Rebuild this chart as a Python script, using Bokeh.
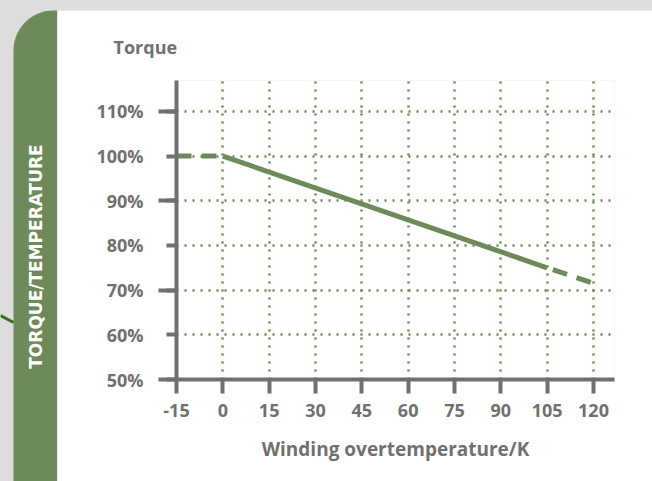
import math
from bokeh.plotting import figure
from bokeh.layouts import row, column
from bokeh.models import FixedTicker, Range1d, Title
from bokeh.core.properties import value
from bokeh.embed import file_html
from bokeh.resources import INLINE

# ---- data ----
x_ticks = [-15, 0, 15, 30, 45, 60, 75, 90, 105, 120]
x_tick_labels = ["-15", "0", "15", "30", "45", "60", "75", "90", "105", "120"]
y_ticks = [50, 60, 70, 80, 90, 100, 110]
y_tick_labels = ["50%", "60%", "70%", "80%", "90%", "100%", "110%"]

temp_cold = [-15, 0]
torque_cold = [100, 100]
temp_rated = [0, 105]
torque_rated = [100, 75]
temp_hot = [105, 120]
torque_hot = [75, 71.5]

y_title = "Torque"
x_title = "Winding overtemperature/K"
side_title = "TORQUE/TEMPERATURE"

GREEN = "#6e8a5a"
GRID_GREEN = "#668753"
GREY = "#707070"
BG = "#dddddd"
FONT = "Open Sans"

W, H = 652, 481
SIDE_W = 57
STRIP_H = 10


def deco_fig(w, h, fill):
    f = figure(width=w, height=h, output_backend="svg", toolbar_location=None,
               x_range=Range1d(0, w), y_range=Range1d(0, h),
               x_axis_type=None, y_axis_type=None,
               min_border=0, min_border_left=0, min_border_right=0,
               min_border_top=0, min_border_bottom=0)
    f.outline_line_color = None
    f.background_fill_color = fill
    f.border_fill_color = fill
    f.styles = {"background-color": fill}
    return f


# ---- left sidebar ----
side = deco_fig(SIDE_W, H, BG)
side.quad(left=[0], right=[SIDE_W], bottom=[0], top=[H], fill_color=BG,
          line_color=None)
side.varea(x=[0, SIDE_W], y1=[0, 0], y2=[H, H], fill_color=BG)
r = 40
arc = [math.radians(90 + 5 * i) for i in range(19)]
sx = [SIDE_W] + [13 + r + r * math.cos(t) for t in arc] + [13, SIDE_W]
sy_top = [10] + [10 + r - r * math.sin(t) for t in arc] + [H, H]
side.patch(sx, [H - v for v in sy_top], fill_color=GREEN, line_color=None)
side.line([0, 13], [H - 315, H - 322], line_color="#3d6a1c", line_width=3)
side.text(x=[35.5], y=[H - 256], text=[side_title], angle=math.pi / 2,
          text_align="center", text_baseline="middle",
          text_font=value("DejaVu Sans"), text_font_style="bold",
          text_font_size="17px", text_color="white")

# ---- top grey strip ----
MW = W - SIDE_W
strip = deco_fig(MW, STRIP_H, BG)
strip.quad(left=[0], right=[MW], bottom=[0], top=[STRIP_H], fill_color=BG,
           line_color=None)

# ---- main chart ----
p = figure(width=MW, height=H - STRIP_H, output_backend="svg",
           toolbar_location=None,
           x_range=Range1d(-15, 126.8), y_range=Range1d(50, 116.9),
           min_border_left=176 - SIDE_W, min_border_right=W - 614,
           min_border_top=80 - STRIP_H, min_border_bottom=H - 379)
p.title = Title(text=y_title, align="left", offset=-63, standoff=44,
                text_font=FONT, text_font_style="bold", text_font_size="18px",
                text_color=GREY)
p.outline_line_color = None
p.background_fill_color = "white"
p.border_fill_color = "white"

xa = p.xaxis[0]
ya = p.yaxis[0]
xa.ticker = FixedTicker(ticks=x_ticks)
xa.major_label_overrides = dict(zip(x_ticks, x_tick_labels))
ya.ticker = FixedTicker(ticks=y_ticks, minor_ticks=y_ticks[::2])
ya.major_label_overrides = dict(zip(y_ticks, y_tick_labels))

for ax in (xa, ya):
    ax.axis_line_color = GREY
    ax.axis_line_width = 4
    ax.major_tick_line_color = GREY
    ax.major_tick_line_width = 4
    ax.major_tick_in = 0
    ax.minor_tick_in = 0
    ax.major_label_text_font = FONT
    ax.major_label_text_font_style = "bold"
    ax.major_label_text_font_size = "18px"
    ax.major_label_text_color = GREY

xa.major_tick_out = 14
xa.minor_tick_line_color = None
xa.major_label_standoff = 10
xa.axis_label = x_title
xa.axis_label_text_font = FONT
xa.axis_label_text_font_style = "bold"
xa.axis_label_text_font_size = "19px"
xa.axis_label_text_color = GREY
xa.axis_label_standoff = 16
ya.major_tick_out = 10
ya.minor_tick_out = 18
ya.minor_tick_line_color = GREY
ya.minor_tick_line_width = 4
ya.major_label_standoff = 15

p.xgrid.ticker = FixedTicker(ticks=x_ticks[1:])
p.ygrid.ticker = FixedTicker(ticks=y_ticks[1:])
for g in (p.xgrid[0], p.ygrid[0]):
    g.grid_line_color = GRID_GREEN
    g.grid_line_width = 2.5
    g.grid_line_dash = "2 6"

p.line(temp_cold, torque_cold, line_color=GREEN, line_width=5, line_dash="15 10")
p.line(temp_rated, torque_rated, line_color=GREEN, line_width=5)
p.line(temp_hot, torque_hot, line_color=GREEN, line_width=5, line_dash="15 10",
       line_dash_offset=19)

layout = row(side, column(strip, p, spacing=0), spacing=0,
             styles={"background-color": BG})

open("out.html", "w").write(file_html(layout, INLINE))
